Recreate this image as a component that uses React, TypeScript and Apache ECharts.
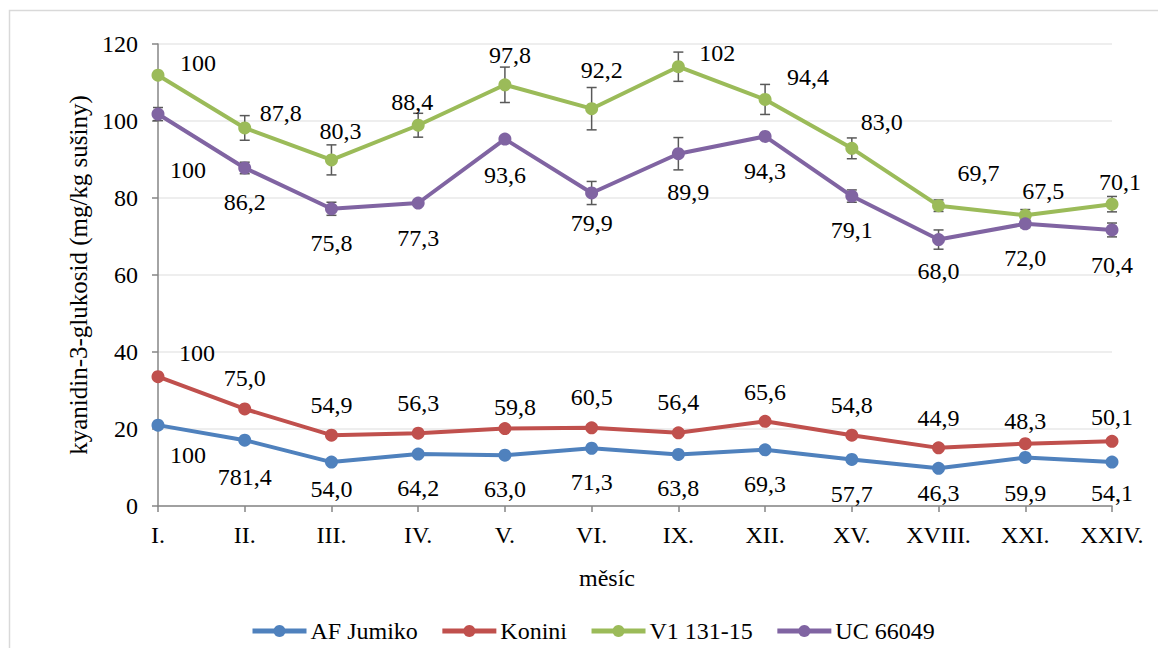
import React, { useEffect, useRef } from "react";
import * as echarts from "echarts";

// Sampling months (Roman numerals)
const months = ["I.", "II.", "III.", "IV.", "V.", "VI.", "IX.", "XII.", "XV.", "XVIII.", "XXI.", "XXIV."];

// Cyanidin-3-glucoside content, mg/kg dry matter
const afJumiko = [21.0, 17.1, 11.4, 13.5, 13.2, 15.0, 13.4, 14.6, 12.1, 9.8, 12.6, 11.4];
const konini = [33.6, 25.2, 18.4, 18.9, 20.1, 20.3, 19.0, 22.0, 18.4, 15.1, 16.2, 16.8];
const v1 = [111.9, 98.2, 89.9, 98.9, 109.4, 103.2, 114.1, 105.6, 92.9, 78.0, 75.5, 78.4];
const uc = [101.8, 87.8, 77.2, 78.7, 95.3, 81.3, 91.5, 96.0, 80.5, 69.2, 73.3, 71.7];

// Standard deviations (error bars)
const v1Err = [0.0, 3.2, 3.9, 3.1, 4.6, 5.5, 3.8, 3.9, 2.7, 1.5, 1.5, 2.0];
const ucErr = [1.7, 1.5, 1.7, 0.5, 0.5, 3.0, 4.2, 0.5, 1.6, 2.5, 1.0, 1.8];

// Relative content (% of month I.), as printed next to the points
const afJumikoPct = ["100", "781,4", "54,0", "64,2", "63,0", "71,3", "63,8", "69,3", "57,7", "46,3", "59,9", "54,1"];
const koniniPct = ["100", "75,0", "54,9", "56,3", "59,8", "60,5", "56,4", "65,6", "54,8", "44,9", "48,3", "50,1"];
const v1Pct = ["100", "87,8", "80,3", "88,4", "97,8", "92,2", "102", "94,4", "83,0", "69,7", "67,5", "70,1"];
const ucPct = ["100", "86,2", "75,8", "77,3", "93,6", "79,9", "89,9", "94,3", "79,1", "68,0", "72,0", "70,4"];

const seriesNames = ["AF Jumiko", "Konini", "V1 131-15", "UC 66049"];
const colors = ["#4F81BD", "#C0504D", "#9BBB59", "#8064A2"];

// Label placement relative to each point (px)
const nudgeBlue = [[30, 30], [0, 37], [0, 27], [0, 34], [0, 34], [0, 34], [0, 34], [0, 34], [0, 35], [0, 25], [0, 36], [0, 31]];
const nudgeRed = [[39, -24], [0, -31], [0, -30], [0, -30], [10, -22], [0, -31], [0, -31], [0, -29], [0, -30], [0, -30], [0, -23], [0, -24]];
const nudgeGreen = [[40, -12], [36, -15], [9, -29], [-6, -23], [5, -30], [10, -39], [39, -14], [43, -22], [30, -26], [40, -33], [18, -24], [8, -22]];
const nudgePurple = [[30, 56], [0, 34], [0, 34], [0, 35], [0, 36], [0, 30], [10, 38], [0, 35], [0, 34], [0, 31], [0, 34], [0, 35]];

const FONT = "Liberation Serif";
const FS = 24;
const txt = { fontFamily: FONT, fontSize: FS, color: "#000" };

function lineSeries(name: string, color: string, values: number[], pct: string[], nudge: number[][]) {
  return {
    name,
    type: "line",
    data: values.map((v, i) => ({
      value: v,
      label: { offset: nudge[i], formatter: pct[i] },
    })),
    symbol: "circle",
    symbolSize: 13,
    lineStyle: { color, width: 4 },
    itemStyle: { color },
    z: 3,
    label: { show: true, position: "inside", ...txt },
  };
}

function errorSeries(name: string, values: number[], errs: number[]) {
  return {
    name,
    type: "custom",
    data: values.map((v, i) => [i, v - errs[i], v + errs[i]]),
    renderItem: (params: any, api: any) => {
      if (api.value(2) - api.value(1) < 0.01) return null;
      const lo = api.coord([api.value(0), api.value(1)]);
      const hi = api.coord([api.value(0), api.value(2)]);
      const cap = 5;
      const style = { stroke: "#595959", lineWidth: 1.5 };
      return {
        type: "group",
        children: [
          { type: "line", shape: { x1: lo[0], y1: lo[1], x2: hi[0], y2: hi[1] }, style },
          { type: "line", shape: { x1: lo[0] - cap, y1: lo[1], x2: lo[0] + cap, y2: lo[1] }, style },
          { type: "line", shape: { x1: hi[0] - cap, y1: hi[1], x2: hi[0] + cap, y2: hi[1] }, style },
        ],
      };
    },
    z: 2,
    silent: true,
  };
}

export default function App() {
  const ref = useRef<HTMLDivElement>(null);

  useEffect(() => {
    if (!ref.current) return;
    const chart = echarts.init(ref.current, undefined, { renderer: "svg" });
    chart.setOption({
      animation: false,
      backgroundColor: "#fff",
      textStyle: { fontFamily: FONT, fontSize: FS },
      graphic: [
        {
          type: "rect",
          shape: { x: 9.5, y: 10.5, width: 1300, height: 800 },
          style: { fill: "none", stroke: "#d9d9d9", lineWidth: 1.5 },
          silent: true,
        },
      ],
      grid: { left: 158, right: 46, top: 44, bottom: 142, containLabel: false },
      legend: {
        data: seriesNames,
        left: 245,
        top: 616,
        padding: [2, 5, 2, 5],
        itemWidth: 54,
        itemHeight: 15,
        itemGap: 22,
        lineStyle: { width: 5 },
        textStyle: { ...txt, lineHeight: 26, padding: [0, 0, 0, -1] },
      },
      xAxis: {
        type: "category",
        data: months,
        boundaryGap: false,
        name: "měsíc",
        nameLocation: "middle",
        nameGap: 60,
        nameTextStyle: { ...txt, padding: [0, 56, 0, 0] },
        axisLine: { lineStyle: { color: "#868686", width: 1.5 } },
        axisTick: { show: true, length: 6, alignWithLabel: true, lineStyle: { color: "#868686", width: 1.5 } },
        axisLabel: { ...txt, margin: 17 },
        splitLine: { show: false },
      },
      yAxis: {
        type: "value",
        min: 0,
        max: 120,
        interval: 20,
        name: "kyanidin-3-glukosid (mg/kg sušiny)",
        nameLocation: "middle",
        nameGap: 59,
        nameTextStyle: { ...txt, fontSize: 25 },
        axisLine: { show: true, lineStyle: { color: "#868686", width: 1.5 } },
        axisTick: { show: true, length: 6, lineStyle: { color: "#868686", width: 1.5 } },
        axisLabel: { ...txt, margin: 20 },
        splitLine: { lineStyle: { color: "#e8e8e8", width: 1.5 } },
      },
      series: [
        errorSeries("V1 131-15 SD", v1, v1Err),
        errorSeries("UC 66049 SD", uc, ucErr),
        lineSeries(seriesNames[0], colors[0], afJumiko, afJumikoPct, nudgeBlue),
        lineSeries(seriesNames[1], colors[1], konini, koniniPct, nudgeRed),
        lineSeries(seriesNames[2], colors[2], v1, v1Pct, nudgeGreen),
        lineSeries(seriesNames[3], colors[3], uc, ucPct, nudgePurple),
      ],
    });
    return () => chart.dispose();
  }, []);

  return (
    <div
      ref={ref}
      style={{ position: "fixed", left: 0, top: 0, width: 1158, height: 648, background: "#fff" }}
    />
  );
}
